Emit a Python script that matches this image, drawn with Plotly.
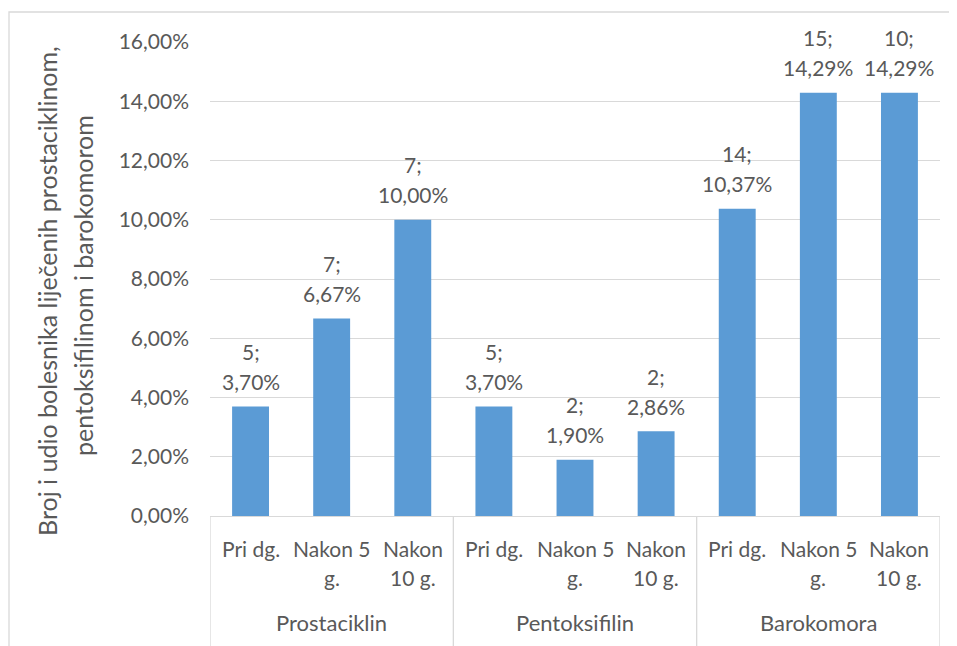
import plotly.graph_objects as go

# Data
groups = ["Prostaciklin", "Pentoksifilin", "Barokomora"]
periods = ["Pri dg.", "Nakon 5\ng.", "Nakon\n10 g."]
counts = [5, 7, 7, 5, 2, 2, 14, 15, 10]
shares = [0.0370, 0.0667, 0.1000, 0.0370, 0.0190, 0.0286, 0.1037, 0.1429, 0.1429]
y_title = ["Broj i udio bolesnika liječenih prostaciklinom,", "pentoksifilinom i barokomorom"]

FONT = "Lato"
TXT = "#595959"
GRID = "#D9D9D9"
BAR = "#5B9BD5"

# page body has an 8px margin, so the figure is drawn 8px smaller
OFF = 8
W, H = 957 - OFF, 646 - OFF
L, T = 210 - OFF, 42 - OFF
R, B = W - (940 - OFF), H - (516 - OFF)
PH = H - T - B
PW = W - L - R

xs = list(range(len(counts)))

fig = go.Figure()
fig.add_trace(go.Bar(x=xs, y=shares, marker=dict(color=BAR, line=dict(width=0)),
                     hoverinfo="skip"))

annotations = []

# data labels: "n;" line and "x,xx%" line above each bar
for x, n, v in zip(xs, counts, shares):
    pct = f"{v * 100:.2f}".replace(".", ",") + "%"
    annotations.append(dict(x=x, y=v, xref="x", yref="y", text=f"{n};", showarrow=False,
                            yanchor="middle", yshift=55, font=dict(size=21, color=TXT, family=FONT)))
    annotations.append(dict(x=x, y=v, xref="x", yref="y", text=pct, showarrow=False,
                            yanchor="middle", yshift=25, font=dict(size=21, color=TXT, family=FONT)))

# inner category labels (one annotation per text line)
for gi, g in enumerate(groups):
    for pi, p in enumerate(periods):
        x = gi * len(periods) + pi
        for li, line in enumerate(p.split("\n")):
            annotations.append(dict(x=x, y=0, xref="x", yref="paper", text=line, showarrow=False,
                                    yanchor="middle", yshift=-32 - 29 * li,
                                    font=dict(size=21, color=TXT, family=FONT)))
    # group label
    annotations.append(dict(x=gi * len(periods) + (len(periods) - 1) / 2, y=0, xref="x", yref="paper",
                            text=g, showarrow=False, yanchor="middle", yshift=-106,
                            font=dict(size=22, color=TXT, family=FONT)))

# rotated y-axis title, two lines (pixel positions in reference image)
for xpix, ypix, line in [(47, 291, y_title[0]), (83, 286, y_title[1])]:
    annotations.append(dict(x=0, y=0, xref="paper", yref="paper", text=line, showarrow=False,
                            textangle=-90, xanchor="center", yanchor="middle",
                            xshift=(xpix - OFF) - L, yshift=(T + PH) - (ypix - OFF),
                            font=dict(size=25, color=TXT, family=FONT)))

shapes = []
# group dividers below the axis
n_per = len(periods)
for k in range(len(groups) + 1):
    shapes.append(dict(type="line", xref="x", yref="paper", x0=k * n_per - 0.5, x1=k * n_per - 0.5,
                       y0=0, y1=-(B + 2) / PH, line=dict(color=GRID, width=1.3)))
# chart border
shapes.append(dict(type="rect", xref="paper", yref="paper",
                   x0=(9 - OFF - L) / PW, x1=(W + 5 - L) / PW,
                   y0=-(B + 5) / PH, y1=(T + PH - (12 - OFF)) / PH,
                   line=dict(color=GRID, width=1.3), fillcolor="rgba(0,0,0,0)", layer="below"))

fig.update_layout(
    width=W, height=H,
    margin=dict(l=L, r=R, t=T, b=B),
    paper_bgcolor="white", plot_bgcolor="white",
    separators=",.",
    bargap=0.545,
    showlegend=False,
    font=dict(family=FONT, size=21, color=TXT),
    annotations=annotations,
    shapes=shapes,
)
fig.update_xaxes(range=[-0.5, len(counts) - 0.5], showticklabels=False, showgrid=False,
                 zeroline=False, showline=True, linecolor=GRID, linewidth=1.3, ticks="")
fig.update_yaxes(range=[0, 0.16], dtick=0.02, tickformat=".2%", showgrid=True, gridcolor=GRID,
                 gridwidth=1.3, zeroline=False, showline=False, ticks="", ticklabelstandoff=20,
                 tickfont=dict(size=21, color=TXT, family=FONT))

fig.write_html("out.html")
